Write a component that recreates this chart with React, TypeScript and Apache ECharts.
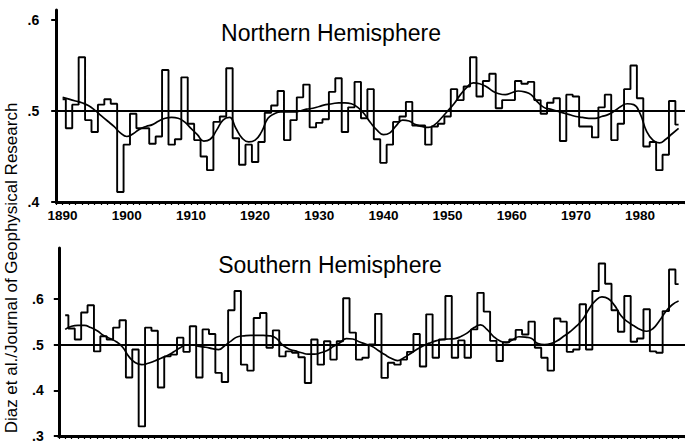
import React, { useEffect, useRef } from "react";
import * as echarts from "echarts";

const FIRST_YEAR = 1890;

// Northern Hemisphere annual values, 1890-1986
const nhAnnual = [
  0.513, 0.481, 0.507, 0.559, 0.49, 0.477, 0.507, 0.513, 0.508, 0.411,
  0.463, 0.497, 0.481, 0.481, 0.464, 0.472, 0.545, 0.463, 0.469, 0.537,
  0.486, 0.468, 0.45, 0.435, 0.488, 0.494, 0.547, 0.47, 0.441, 0.463,
  0.444, 0.466, 0.498, 0.506, 0.522, 0.468, 0.49, 0.515, 0.529, 0.482,
  0.487, 0.491, 0.521, 0.536, 0.477, 0.504, 0.532, 0.492, 0.524, 0.469,
  0.443, 0.463, 0.488, 0.494, 0.51, 0.484, 0.484, 0.463, 0.483, 0.486,
  0.494, 0.524, 0.512, 0.527, 0.559, 0.516, 0.533, 0.541, 0.503, 0.512,
  0.512, 0.533, 0.53, 0.532, 0.512, 0.497, 0.509, 0.514, 0.467, 0.518,
  0.516, 0.483, 0.483, 0.471, 0.504, 0.518, 0.468, 0.486, 0.524, 0.55,
  0.514, 0.461, 0.466, 0.435, 0.452, 0.511, 0.485,
];

// Northern Hemisphere smoothed curve, 1890-1986
const nhSmooth = [
  0.515, 0.513, 0.511, 0.509, 0.506, 0.501, 0.495, 0.489, 0.483, 0.476,
  0.472, 0.475, 0.48, 0.483, 0.485, 0.489, 0.492, 0.493, 0.492, 0.488,
  0.481, 0.474, 0.467, 0.469, 0.479, 0.49, 0.493, 0.481, 0.47, 0.466,
  0.468, 0.477, 0.492, 0.497, 0.499, 0.499, 0.499, 0.5, 0.502, 0.503,
  0.505, 0.507, 0.508, 0.509, 0.509, 0.508, 0.504, 0.497, 0.487, 0.479,
  0.474, 0.476, 0.484, 0.49, 0.489, 0.485, 0.483, 0.482, 0.485, 0.492,
  0.5, 0.508, 0.518, 0.526, 0.531, 0.53, 0.527, 0.522, 0.519, 0.518,
  0.52, 0.522, 0.521, 0.518, 0.51, 0.504, 0.502, 0.5, 0.498, 0.496,
  0.494, 0.493, 0.492, 0.492, 0.494, 0.496, 0.5, 0.505, 0.508, 0.507,
  0.497, 0.478, 0.468, 0.465, 0.469, 0.475, 0.481,
];

// Southern Hemisphere annual values, 1890-1986
const shAnnual = [
  0.564, 0.535, 0.511, 0.57, 0.586, 0.485, 0.518, 0.511, 0.537, 0.553,
  0.428, 0.489, 0.321, 0.537, 0.53, 0.406, 0.474, 0.478, 0.515, 0.484,
  0.54, 0.428, 0.533, 0.523, 0.438, 0.418, 0.575, 0.617, 0.456, 0.443,
  0.558, 0.569, 0.493, 0.531, 0.474, 0.485, 0.482, 0.472, 0.416, 0.511,
  0.456, 0.507, 0.467, 0.507, 0.601, 0.526, 0.467, 0.471, 0.5, 0.567,
  0.427, 0.46, 0.456, 0.467, 0.484, 0.523, 0.452, 0.566, 0.471, 0.511,
  0.606, 0.471, 0.509, 0.471, 0.533, 0.613, 0.572, 0.508, 0.464, 0.505,
  0.511, 0.532, 0.522, 0.55, 0.493, 0.471, 0.443, 0.557, 0.55, 0.484,
  0.489, 0.588, 0.489, 0.617, 0.677, 0.633, 0.575, 0.528, 0.606, 0.506,
  0.513, 0.577, 0.485, 0.482, 0.573, 0.664, 0.632,
];

// Southern Hemisphere smoothed curve, 1890-1986
const shSmooth = [
  0.533, 0.54, 0.542, 0.542, 0.537, 0.53, 0.52, 0.513, 0.506, 0.494,
  0.473, 0.46, 0.456, 0.459, 0.464, 0.47, 0.476, 0.484, 0.493, 0.499,
  0.499, 0.496, 0.494, 0.491, 0.489, 0.498, 0.508, 0.517, 0.519, 0.52,
  0.52, 0.52, 0.519, 0.514, 0.499, 0.49, 0.486, 0.482, 0.479, 0.479,
  0.482, 0.487, 0.496, 0.504, 0.513, 0.512, 0.506, 0.501, 0.496, 0.487,
  0.478, 0.47, 0.465, 0.471, 0.48, 0.489, 0.497, 0.503, 0.508, 0.511,
  0.512, 0.513, 0.518, 0.526, 0.537, 0.543, 0.533, 0.518, 0.508, 0.504,
  0.51, 0.517, 0.516, 0.513, 0.502, 0.5, 0.502, 0.508, 0.518, 0.528,
  0.54, 0.555, 0.578, 0.596, 0.604, 0.6, 0.585, 0.563, 0.55, 0.541,
  0.533, 0.529, 0.535, 0.552, 0.572, 0.587, 0.595,
];

const decadeLabels = [1890, 1900, 1910, 1920, 1930, 1940, 1950, 1960, 1970, 1980];
const topTickValues = [0.4, 0.5, 0.6];
const bottomTickValues = [0.3, 0.4, 0.5, 0.6];
const panelTitles = ["Northern Hemisphere", "Southern Hemisphere"];
const sourceNote = "Diaz et al./Journal of Geophysical Research";
const referenceLevel = 0.5;
const X_MIN = 1889;
const X_MAX = 1987;

const FONT = "'Liberation Sans', Arial, Helvetica, sans-serif";

const toPairs = (vals: number[]) => vals.map((v, i) => [FIRST_YEAR + i, v]);
const yearTicks: number[] = [];
for (let y = X_MIN; y <= X_MAX; y++) yearTicks.push(y);

const fmtY = (v: number) => "." + Math.round(v * 10);

function xAxisCfg(gridIndex: number, showLabels: boolean) {
  return {
    type: "value",
    gridIndex,
    min: X_MIN,
    max: X_MAX,
    axisLine: { show: true, onZero: false, lineStyle: { color: "#000", width: 3 } },
    axisTick: {
      show: true,
      customValues: yearTicks,
      length: 3,
      lineStyle: { color: "#000", width: 1.2 },
    },
    axisLabel: {
      show: showLabels,
      customValues: decadeLabels,
      formatter: (v: number) => String(v),
      color: "#000",
      fontFamily: FONT,
      fontWeight: "bold",
      fontSize: 13.5,
      margin: 6,
    },
    splitLine: { show: false },
  };
}

function yAxisCfg(gridIndex: number, min: number, max: number, ticks: number[], margin: number) {
  return {
    type: "value",
    gridIndex,
    min,
    max,
    axisLine: { show: true, onZero: false, lineStyle: { color: "#000", width: 3 } },
    axisTick: {
      show: true,
      customValues: ticks,
      length: 5,
      lineStyle: { color: "#000", width: 2 },
    },
    axisLabel: {
      customValues: ticks,
      formatter: fmtY,
      color: "#000",
      fontFamily: FONT,
      fontWeight: "bold",
      fontSize: 14,
      margin,
    },
    splitLine: { show: false },
  };
}

function refLine() {
  return {
    silent: true,
    symbol: ["none", "none"],
    label: { show: false },
    lineStyle: { color: "#000", width: 2, type: "solid" },
    data: [{ yAxis: referenceLevel }],
  };
}

export default function App() {
  const ref = useRef<HTMLDivElement>(null);

  useEffect(() => {
    if (!ref.current) return;
    const chart = echarts.init(ref.current, null, { renderer: "svg" });
    const PX_PER_YEAR = 6.45;
    const gridWidth = (X_MAX - X_MIN) * PX_PER_YEAR;
    chart.setOption({
      animation: false,
      backgroundColor: "#fff",
      grid: [
        { left: 56.2, top: 10, width: gridWidth, height: 192 },
        { left: 58.8, top: 248, width: gridWidth, height: 188 },
      ],
      xAxis: [xAxisCfg(0, true), xAxisCfg(1, false)],
      yAxis: [
        yAxisCfg(0, 0.4, 0.611, topTickValues, 17),
        yAxisCfg(1, 0.3, 0.711, bottomTickValues, 15),
      ],
      series: [
        {
          type: "line",
          xAxisIndex: 0,
          yAxisIndex: 0,
          data: toPairs(nhAnnual),
          step: "middle",
          showSymbol: false,
          lineStyle: { color: "#000", width: 1.9 },
          markLine: refLine(),
          z: 3,
        },
        {
          type: "line",
          xAxisIndex: 0,
          yAxisIndex: 0,
          data: toPairs(nhSmooth),
          smooth: 0.5,
          showSymbol: false,
          lineStyle: { color: "#000", width: 1.7 },
          z: 4,
        },
        {
          type: "line",
          xAxisIndex: 1,
          yAxisIndex: 1,
          data: toPairs(shAnnual),
          step: "middle",
          showSymbol: false,
          lineStyle: { color: "#000", width: 1.9 },
          markLine: refLine(),
          z: 3,
        },
        {
          type: "line",
          xAxisIndex: 1,
          yAxisIndex: 1,
          data: toPairs(shSmooth),
          smooth: 0.5,
          showSymbol: false,
          lineStyle: { color: "#000", width: 1.7 },
          z: 4,
        },
      ],
      graphic: [
        {
          type: "text",
          x: 331,
          y: 32.5,
          style: {
            text: panelTitles[0],
            fill: "#000",
            font: `23px ${FONT}`,
            textAlign: "center",
            textVerticalAlign: "middle",
          },
        },
        {
          type: "text",
          x: 330,
          y: 264.5,
          style: {
            text: panelTitles[1],
            fill: "#000",
            font: `23px ${FONT}`,
            textAlign: "center",
            textVerticalAlign: "middle",
          },
        },
        {
          type: "text",
          x: 11.5,
          y: 268,
          rotation: Math.PI / 2,
          style: {
            text: sourceNote,
            fill: "#000",
            font: `17px ${FONT}`,
            textAlign: "center",
            textVerticalAlign: "middle",
          },
        },
      ],
    });
    return () => chart.dispose();
  }, []);

  return (
    <div
      ref={ref}
      style={{ position: "absolute", left: 0, top: 0, width: 685, height: 443, background: "#fff" }}
    />
  );
}
